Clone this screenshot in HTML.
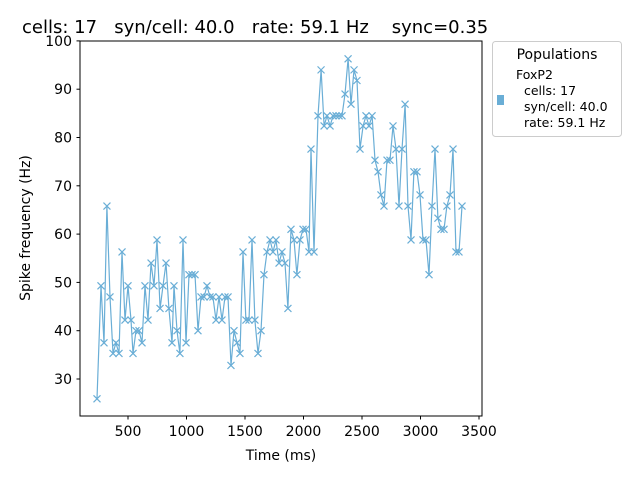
<!DOCTYPE html>
<html><head><meta charset="utf-8"><style>
body{margin:0;background:#fff;font-family:"Liberation Sans","DejaVu Sans",sans-serif}
svg text{font-family:"DejaVu Sans","Liberation Sans",sans-serif}
</style></head><body>
<svg id="chart" width="640" height="480" xmlns="http://www.w3.org/2000/svg">
<rect width="640" height="480" fill="#fff"/>
<text x="22" y="33" font-size="18" xml:space="preserve">cells: 17   syn/cell: 40.0   rate: 59.1 Hz    sync=0.35</text>
<g id="plot"></g>
<rect x="80" y="41" width="402" height="375" fill="none" stroke="#000" stroke-width="1"/>
<text x="281" y="460" font-size="14" text-anchor="middle">Time (ms)</text>
<text transform="translate(30,228) rotate(-90)" font-size="14" text-anchor="middle">Spike frequency (Hz)</text>
<g>
<rect x="492.5" y="41.5" width="129" height="95" rx="3" fill="#fff" stroke="#ccc"/>
<text x="557" y="59" font-size="14" text-anchor="middle">Populations</text>
<rect x="497" y="95" width="7" height="10" fill="#6aaed6"/>
<text font-size="12.5" xml:space="preserve"><tspan x="516" y="79">FoxP2</tspan><tspan x="516" y="95">  cells: 17</tspan><tspan x="516" y="111">  syn/cell: 40.0</tspan><tspan x="516" y="127">  rate: 59.1 Hz</tspan></text>
</g>
</svg>
<script>
const times=[235,269,295,320,346,372,397,423,449,474,500,526,543,568,594,620,645,671,697,722,748,774,799,825,850,876,893,919,944,970,996,1021,1047,1073,1098,1124,1150,1175,1201,1226,1252,1278,1303,1329,1355,1380,1406,1432,1457,1483,1508,1534,1560,1585,1611,1637,1662,1688,1714,1739,1765,1791,1816,1842,1867,1893,1919,1944,1970,1996,2021,2047,2064,2090,2124,2150,2176,2201,2227,2252,2278,2304,2329,2355,2381,2406,2432,2457,2483,2509,2534,2560,2586,2611,2637,2662,2688,2714,2739,2765,2791,2816,2842,2868,2893,2919,2944,2970,2996,3021,3047,3073,3098,3124,3149,3175,3201,3226,3252,3278,3303,3329,3355];
const rates=[25.9,49.3,37.5,65.8,47.0,35.3,37.5,35.3,56.3,42.2,
49.3,42.2,35.3,40.0,40.0,37.5,49.3,42.2,54.0,49.3,
58.8,44.6,49.3,54.0,44.6,37.5,49.3,40.0,35.3,58.8,
37.5,51.6,51.6,51.6,40.0,47.0,47.0,49.3,47.0,47.0,
42.2,47.0,42.2,47.0,47.0,32.8,40.0,37.5,35.3,56.3,
42.2,42.2,58.8,42.2,35.3,40.0,51.6,56.3,58.8,56.3,
58.8,54.0,56.3,54.0,44.6,61.0,58.8,51.6,58.8,61.0,
61.0,56.3,77.6,56.3,84.5,94.0,82.4,84.5,82.4,84.5,
84.5,84.5,84.5,89.0,96.3,86.9,94.0,91.8,77.6,82.4,
84.5,82.4,84.5,75.3,72.9,68.1,65.8,75.3,75.3,82.4,
77.6,65.8,77.6,86.9,65.8,58.8,72.9,72.9,68.1,58.8,
58.8,51.6,65.8,77.6,63.3,61.0,61.0,65.8,68.1,77.6,
56.3,56.3,65.8];
const xTicks=[500,1000,1500,2000,2500,3000,3500];
const yTicks=[30,40,50,60,70,80,90,100];
const NS="http://www.w3.org/2000/svg";
const xs=t=>69.5+t*0.117;
const ys=v=>379-(v-30)*4.83;
const g=document.getElementById('plot');
function mk(tag,attrs){const e=document.createElementNS(NS,tag);for(const k in attrs)e.setAttribute(k,attrs[k]);return e;}
xTicks.forEach(t=>{
  const l=mk('line',{x1:xs(t),x2:xs(t),y1:416,y2:419.5,stroke:'#000'});
  
  
  g.appendChild(l);
  const tx=mk('text',{x:xs(t),y:436,'font-size':14,'text-anchor':'middle'});
  
  
  tx.textContent=t;g.appendChild(tx);
});
yTicks.forEach(v=>{
  const l=mk('line',{x1:76.5,x2:80,y1:ys(v),y2:ys(v),stroke:'#000'});
  
  
  g.appendChild(l);
  const tx=mk('text',{x:72,y:ys(v)+5,'font-size':14,'text-anchor':'end'});
  
  
  tx.textContent=v;g.appendChild(tx);
});
const pts=times.map((t,i)=>xs(t).toFixed(1)+','+ys(rates[i]).toFixed(1)).join(' ');
const pl=mk('polyline',{points:pts,fill:'none',stroke:'#6aaed6','stroke-width':1.2});


g.appendChild(pl);
times.forEach((t,i)=>{
  const x=xs(t),y=ys(rates[i]),s=3.5;
  const p=mk('path',{d:`M${x-s},${y-s}L${x+s},${y+s}M${x-s},${y+s}L${x+s},${y-s}`,stroke:'#6aaed6','stroke-width':1.2,fill:'none'});
  
  
  g.appendChild(p);
});
</script>
</body></html>
